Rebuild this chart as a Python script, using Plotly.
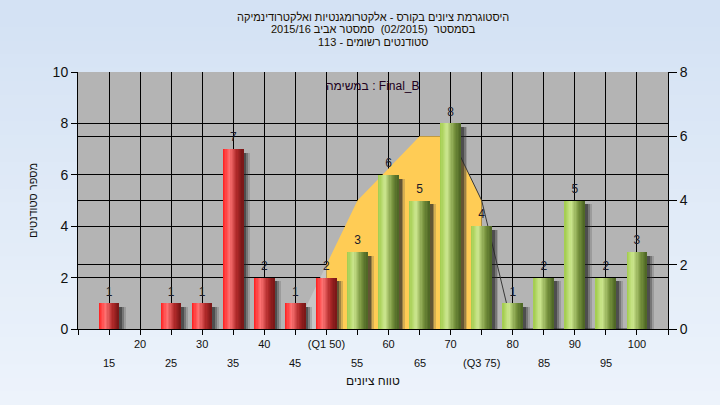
import plotly.graph_objects as go

# ---------------- data ----------------
red_grades = [15, 20, 25, 30, 35, 40, 45, 50]
red_counts = [1, 0, 1, 1, 7, 2, 1, 2]
green_grades = [55, 60, 65, 70, 75, 80, 85, 90, 95, 100]
green_counts = [3, 6, 5, 8, 4, 1, 2, 5, 2, 3]

curve_grades = [45, 50, 55, 60, 65, 70, 75, 80, 85, 90, 95, 100]
curve_values = [0, 2, 4, 5, 6, 6, 4, 0, 0, 0, 0, 0]
q1, q3 = 50, 75

row1_ticks = [20, 30, 40, 50, 60, 70, 80, 90, 100]
row1_text = ["20", "30", "40", "(Q1 50)", "60", "70", "80", "90", "100"]
row2_ticks = [15, 25, 35, 45, 55, 65, 75, 85, 95]
row2_text = ["15", "25", "35", "45", "55", "65", "(Q3 75)", "85", "95"]

title_lines = [
    "היסטוגרמת ציונים בקורס - אלקטרומגנטיות ואלקטרודינמיקה",
    "בסמסטר  (02/2015)  סמסטר אביב 2015/16",
    "סטודנטים רשומים - 113",
]
task_label = "במשימה : Final_B"
y_title = "מספר סטודנטים"
x_title = "טווח ציונים"

FONT = "Liberation Sans, Arial, sans-serif"

# ---------------- helpers ----------------
def hex2rgb(h):
    h = h.lstrip("#")
    return tuple(int(h[i:i + 2], 16) for i in (0, 2, 4))

def grad(stops, t):
    for (t0, c0), (t1, c1) in zip(stops, stops[1:]):
        if t0 <= t <= t1:
            a = (t - t0) / (t1 - t0) if t1 > t0 else 0
            r0, g0, b0 = hex2rgb(c0)
            r1, g1, b1 = hex2rgb(c1)
            return "rgb(%d,%d,%d)" % (r0 + (r1 - r0) * a, g0 + (g1 - g0) * a, b0 + (b1 - b0) * a)
    return stops[-1][1]

red_stops = [(0, "#ff1c1c"), (0.33, "#ff7474"), (0.7, "#b02a2a"), (1, "#781616")]
green_stops = [(0, "#a2cc4c"), (0.33, "#cce68e"), (0.7, "#7a9640"), (1, "#4c6424")]

grades = red_grades + green_grades
counts = red_counts + green_counts
kinds = ["r"] * len(red_grades) + ["g"] * len(green_grades)

fig = go.Figure()

# ---- distribution area (primary y, right side, 0-8) ----
left_x = [g for g in curve_grades if g <= q1]
left_y = [v for g, v in zip(curve_grades, curve_values) if g <= q1]
mid_x = [g for g in curve_grades if q1 <= g <= q3]
mid_y = [v for g, v in zip(curve_grades, curve_values) if q1 <= g <= q3]
line_x = [g for g in curve_grades if g >= 70]
line_y = [v for g, v in zip(curve_grades, curve_values) if g >= 70]

fig.add_trace(go.Scatter(x=left_x, y=left_y, mode="lines", fill="tozeroy",
                         fillcolor="#c6c6c6", line=dict(width=0), yaxis="y",
                         hoverinfo="skip", showlegend=False))
fig.add_trace(go.Scatter(x=mid_x, y=mid_y, mode="lines", fill="tozeroy",
                         fillcolor="#ffcc55", line=dict(width=0, color="#ffcc55"), yaxis="y",
                         hoverinfo="skip", showlegend=False))
fig.add_trace(go.Scatter(x=line_x, y=line_y, mode="lines",
                         line=dict(width=1, color="#383838"), yaxis="y",
                         hoverinfo="skip", showlegend=False))

# ---- bars (y2, left side, 0-10) ----
BW = 3.2
shadow_y = [max(c - 0.15, 0) if c else 0 for c in counts]
for off, col in [(1.1, "rgba(70,70,70,0.22)"), (0.8, "rgba(50,50,50,0.35)"), (0.5, "rgba(30,30,30,0.45)")]:
    fig.add_trace(go.Bar(x=grades, y=shadow_y, width=BW, offset=-BW / 2 + off, yaxis="y2",
                         marker=dict(color=col, line=dict(width=0)),
                         hoverinfo="skip", showlegend=False))
N = 16
sw = BW / N
for i in range(N):
    t = (i + 0.5) / N
    cols = [grad(red_stops if k == "r" else green_stops, t) for k in kinds]
    fig.add_trace(go.Bar(x=grades, y=counts, width=sw * 1.25, offset=-BW / 2 + i * sw,
                         yaxis="y2", marker=dict(color=cols, line=dict(width=0)),
                         hoverinfo="skip", showlegend=False))

# value labels
lab_x = [g for g, c in zip(grades, counts) if c > 0]
lab_y = [c for c in counts if c > 0]
fig.add_trace(go.Scatter(x=lab_x, y=lab_y, mode="markers+text", text=[str(c) for c in lab_y],
                         textposition="top center", yaxis="y2",
                         marker=dict(size=6, color="rgba(0,0,0,0)"),
                         textfont=dict(family=FONT, size=12, color="#1a1a2a"),
                         hoverinfo="skip", showlegend=False))

# ---------------- layout ----------------
shapes = []
top_c, bot_c = "#d4e2f4", "#eef4fc"
y_lo, y_hi = -76 / 257, 1 + 72 / 257
NS = 30
for i in range(NS):
    a = i / NS
    y0 = y_hi - (y_hi - y_lo) * a
    y1 = y_hi - (y_hi - y_lo) * (i + 1) / NS
    shapes.append(dict(type="rect", xref="paper", yref="paper", x0=-0.2, x1=1.2,
                       y0=y1 - 0.002, y1=y0, line=dict(width=0),
                       fillcolor=grad([(0, top_c), (1, bot_c)], a), layer="below"))
shapes.append(dict(type="rect", xref="paper", yref="paper", x0=0, x1=1, y0=0, y1=1,
                   line=dict(width=0), fillcolor="#b4b4b4", layer="below"))

annotations = [
    dict(text=task_label, xref="paper", yref="paper", x=0.5, y=1 - 14 / 257,
         showarrow=False, font=dict(family=FONT, size=12, color="#200020"),
         xanchor="center", yanchor="middle"),
    dict(text=x_title, xref="paper", yref="paper", x=0.5, y=-(381 - 329) / 257,
         showarrow=False, font=dict(family=FONT, size=12, color="#101010"),
         xanchor="center", yanchor="middle"),
]
for g, t in zip(row2_ticks, row2_text):
    annotations.append(dict(text=t, x=g, xref="x", yref="paper", y=0, yshift=-34,
                            showarrow=False, xanchor="center", yanchor="middle",
                            font=dict(family=FONT, size=11, color="#101010")))
for k, line in enumerate(title_lines):
    annotations.append(dict(text=line, xref="paper", yref="paper", x=0.5,
                            y=1 + (72 - (17 + 12.5 * k)) / 257, showarrow=False,
                            xanchor="center", yanchor="middle",
                            font=dict(family=FONT, size=11, color="#1a1000")))

fig.update_layout(
    width=720, height=405,
    margin=dict(l=78, r=52, t=72, b=76),
    paper_bgcolor="#e2ecf8",
    plot_bgcolor="rgba(0,0,0,0)",
    barmode="overlay",
    bargap=0,
    font=dict(family=FONT, size=12, color="#101010"),
    shapes=shapes,
    annotations=annotations,
    xaxis=dict(range=[10, 105], tickvals=[10] + row1_ticks + [105] + row2_ticks,
               ticktext=[""] + row1_text + [""] + [""] * len(row2_ticks),
               showgrid=True, gridcolor="black", gridwidth=1,
               ticks="outside", ticklen=5, tickcolor="black",
               showline=True, linecolor="black", linewidth=1, zeroline=False,
               tickfont=dict(family=FONT, size=11, color="#101010")),
    yaxis=dict(range=[0, 8], dtick=2, side="right", showgrid=True, gridcolor="black",
               ticks="outside", ticklen=8, tickcolor="black", showline=True,
               linecolor="black", zeroline=False,
               tickfont=dict(family=FONT, size=14, color="#101010")),
    yaxis2=dict(range=[0, 10], dtick=2, side="left", overlaying="y", showgrid=True,
                gridcolor="black", ticks="outside", ticklen=6, tickcolor="black",
                showline=True, linecolor="black", zeroline=False,
                tickfont=dict(family=FONT, size=14, color="#101010"),
                title=dict(text=y_title, standoff=12,
                           font=dict(family=FONT, size=11, color="#101010"))),
)

fig.write_html("out.html", config={"displayModeBar": False},
               post_script="document.body.style.margin='0';document.body.style.background='#e2ecf8';")
